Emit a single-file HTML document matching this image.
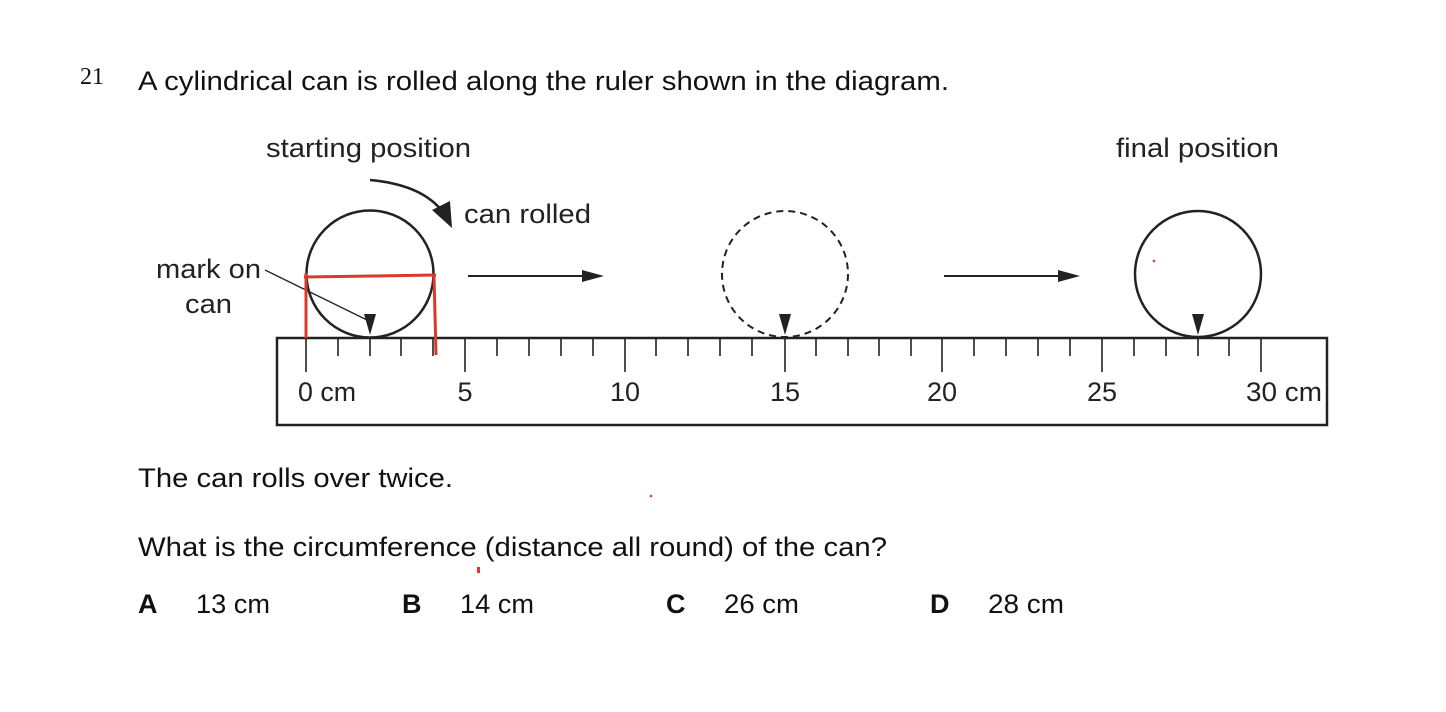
<!DOCTYPE html>
<html><head><meta charset="utf-8"><style>
body{margin:0;background:#fff;}
svg{display:block;font-family:"Liberation Sans",Arial,sans-serif;}
</style></head><body>
<svg width="1446" height="712" viewBox="0 0 1446 712">
<text x="80" y="84" font-family="Liberation Serif,serif" font-size="24" fill="#111">21</text>
<text x="138" y="90" font-size="27" fill="#111" textLength="811" lengthAdjust="spacingAndGlyphs">A cylindrical can is rolled along the ruler shown in the diagram.</text>
<text x="266" y="157" font-size="27" fill="#222" textLength="205" lengthAdjust="spacingAndGlyphs">starting position</text>
<text x="1116" y="157" font-size="27" fill="#222" textLength="163" lengthAdjust="spacingAndGlyphs">final position</text>
<text x="464" y="223" font-size="27" fill="#222" textLength="127" lengthAdjust="spacingAndGlyphs">can rolled</text>
<text x="156" y="278" font-size="27" fill="#222" textLength="105" lengthAdjust="spacingAndGlyphs">mark on</text>
<text x="185" y="313" font-size="27" fill="#222" textLength="47" lengthAdjust="spacingAndGlyphs">can</text>
<path d="M370,180 Q425,185 445,215" fill="none" stroke="#222" stroke-width="2.5"/>
<path d="M432,210 L452,228 L450,201 Z" fill="#222"/>
<rect x="277" y="338" width="1050" height="87" fill="none" stroke="#222" stroke-width="2.5"/>
<g font-size="27" fill="#222" text-anchor="middle">
<text x="298" y="401" text-anchor="start" textLength="58" lengthAdjust="spacingAndGlyphs">0 cm</text>
<text x="465" y="401">5</text>
<text x="625" y="401">10</text>
<text x="785" y="401">15</text>
<text x="942" y="401">20</text>
<text x="1102" y="401">25</text>
<text x="1246" y="401" text-anchor="start" textLength="76" lengthAdjust="spacingAndGlyphs">30 cm</text>
</g>
<circle cx="370" cy="274" r="63.5" fill="none" stroke="#222" stroke-width="2.5"/>
<circle cx="785" cy="274" r="63" fill="none" stroke="#222" stroke-width="2" stroke-dasharray="7,5"/>
<circle cx="1198" cy="274" r="63" fill="none" stroke="#222" stroke-width="2.5"/>
<path d="M364,314 L376,314 L370,335 Z" fill="#222"/>
<path d="M779,314 L791,314 L785,335 Z" fill="#222"/>
<path d="M1192,314 L1204,314 L1198,335 Z" fill="#222"/>
<line x1="265" y1="270" x2="367" y2="320" stroke="#222" stroke-width="1.3"/>
<line x1="468" y1="276" x2="592" y2="276" stroke="#222" stroke-width="2"/>
<path d="M582,270 L604,276 L582,282 Z" fill="#222"/>
<line x1="944" y1="276" x2="1068" y2="276" stroke="#222" stroke-width="2"/>
<path d="M1058,270 L1080,276 L1058,282 Z" fill="#222"/>
<g stroke="#d93a2b" stroke-width="3" fill="none">
<path d="M304,277 L436,275"/>
<path d="M306,273 L306,338"/>
<path d="M434,275 L436,355"/>
</g>
<circle cx="1154" cy="261" r="1.3" fill="#d93a2b"/>
<circle cx="651" cy="496" r="1.3" fill="#d93a2b"/>
<rect x="477" y="567" width="3" height="6" fill="#d93a2b"/>
<text x="138" y="487" font-size="27" fill="#111" textLength="315" lengthAdjust="spacingAndGlyphs">The can rolls over twice.</text>
<text x="138" y="556" font-size="27" fill="#111" textLength="749" lengthAdjust="spacingAndGlyphs">What is the circumference (distance all round) of the can?</text>
<g font-size="27" fill="#111">
<text x="138" y="613" font-weight="bold">A</text><text x="196" y="613" textLength="74" lengthAdjust="spacingAndGlyphs">13 cm</text>
<text x="402" y="613" font-weight="bold">B</text><text x="460" y="613" textLength="74" lengthAdjust="spacingAndGlyphs">14 cm</text>
<text x="666" y="613" font-weight="bold">C</text><text x="724" y="613" textLength="75" lengthAdjust="spacingAndGlyphs">26 cm</text>
<text x="930" y="613" font-weight="bold">D</text><text x="988" y="613" textLength="76" lengthAdjust="spacingAndGlyphs">28 cm</text>
</g>
<g stroke="#222" stroke-width="1.6">
<line x1="306" y1="338" x2="306" y2="372"/><line x1="338" y1="338" x2="338" y2="356"/><line x1="370" y1="338" x2="370" y2="356"/><line x1="401" y1="338" x2="401" y2="356"/><line x1="433" y1="338" x2="433" y2="356"/>
<line x1="465" y1="338" x2="465" y2="372"/><line x1="497" y1="338" x2="497" y2="356"/><line x1="529" y1="338" x2="529" y2="356"/><line x1="561" y1="338" x2="561" y2="356"/><line x1="593" y1="338" x2="593" y2="356"/>
<line x1="625" y1="338" x2="625" y2="372"/><line x1="656" y1="338" x2="656" y2="356"/><line x1="688" y1="338" x2="688" y2="356"/><line x1="720" y1="338" x2="720" y2="356"/><line x1="752" y1="338" x2="752" y2="356"/>
<line x1="785" y1="338" x2="785" y2="372"/><line x1="816" y1="338" x2="816" y2="356"/><line x1="848" y1="338" x2="848" y2="356"/><line x1="879" y1="338" x2="879" y2="356"/><line x1="911" y1="338" x2="911" y2="356"/>
<line x1="942" y1="338" x2="942" y2="372"/><line x1="974" y1="338" x2="974" y2="356"/><line x1="1006" y1="338" x2="1006" y2="356"/><line x1="1038" y1="338" x2="1038" y2="356"/><line x1="1070" y1="338" x2="1070" y2="356"/>
<line x1="1102" y1="338" x2="1102" y2="372"/><line x1="1134" y1="338" x2="1134" y2="356"/><line x1="1166" y1="338" x2="1166" y2="356"/><line x1="1198" y1="338" x2="1198" y2="356"/><line x1="1229" y1="338" x2="1229" y2="356"/>
<line x1="1261" y1="338" x2="1261" y2="372"/>
</g>
</svg>
</body></html>
